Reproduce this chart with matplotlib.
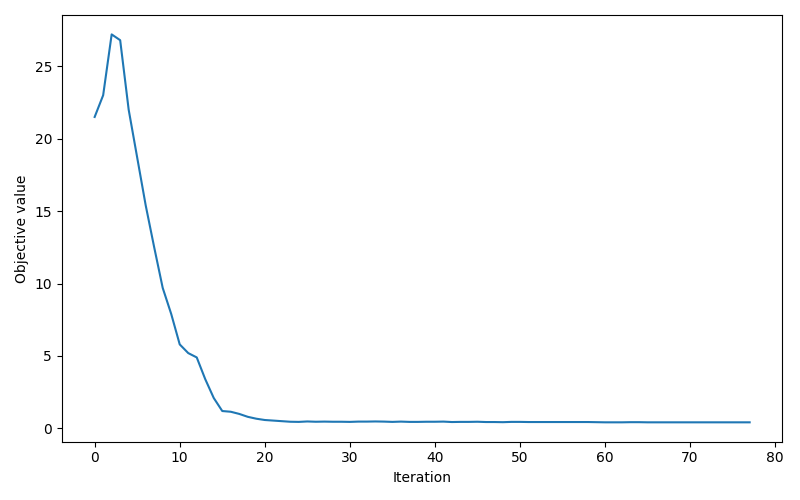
import matplotlib
matplotlib.use("Agg")
import matplotlib.pyplot as plt

# objective value per iteration
objective = [
    21.5, 23.0, 27.2, 26.8, 22.0, 18.7, 15.4, 12.5, 9.7, 7.9,
    5.8, 5.2, 4.9, 3.4, 2.1, 1.2, 1.15, 1.0, 0.8, 0.67,
    0.58, 0.54, 0.5, 0.46, 0.45, 0.48, 0.46, 0.47, 0.46, 0.46,
    0.45, 0.47, 0.47, 0.48, 0.47, 0.45, 0.47, 0.45, 0.45, 0.46,
    0.46, 0.47, 0.44, 0.45, 0.45, 0.46, 0.44, 0.44, 0.43, 0.45,
    0.45, 0.44, 0.44, 0.44, 0.44, 0.44, 0.44, 0.44, 0.44, 0.43,
    0.42, 0.42, 0.42, 0.43, 0.43, 0.42, 0.42, 0.42, 0.42, 0.42,
    0.42, 0.42, 0.42, 0.42, 0.42, 0.42, 0.42, 0.42,
]
iterations = list(range(len(objective)))

fig, ax = plt.subplots(figsize=(8, 5), dpi=100)
ax.plot(iterations, objective, color="#1f77b4", linewidth=1.5)
ax.set_xlabel("Iteration")
ax.set_ylabel("Objective value")
fig.tight_layout()
fig.savefig("out.png")
